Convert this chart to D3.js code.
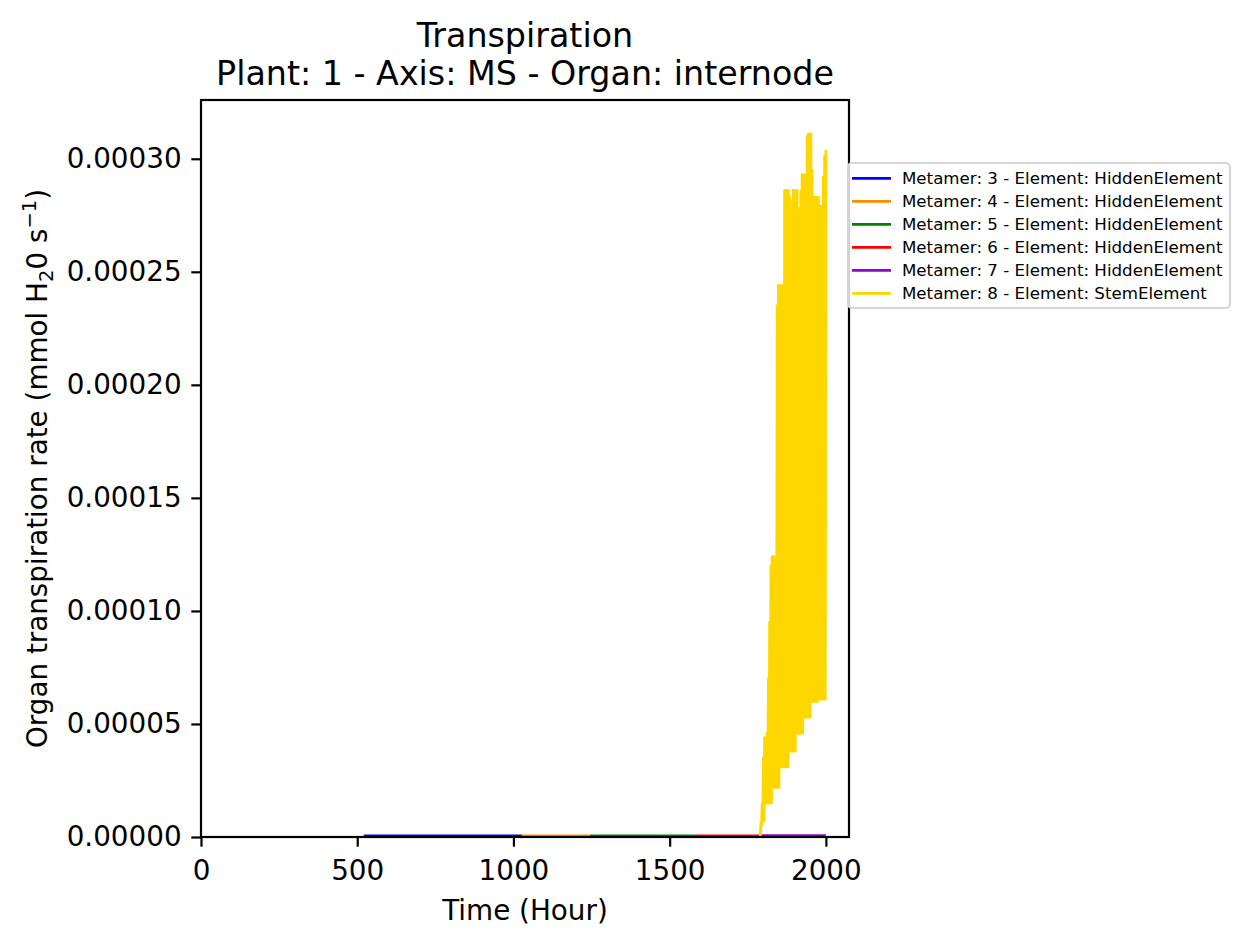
<!DOCTYPE html>
<html>
<head>
<meta charset="utf-8">
<script src="https://cdn.jsdelivr.net/npm/d3@7"></script>
<style>
  body { margin: 0; background: #fff; }
  text { font-family: "DejaVu Sans", sans-serif; }
</style>
</head>
<body>
<div class="canva"></div>
<script>
// series (hours, transpiration in 1e-5 mmol H2O s-1)
const seriesNames = [
  'Metamer: 3 - Element: HiddenElement',
  'Metamer: 4 - Element: HiddenElement',
  'Metamer: 5 - Element: HiddenElement',
  'Metamer: 6 - Element: HiddenElement',
  'Metamer: 7 - Element: HiddenElement',
  'Metamer: 8 - Element: StemElement'
];
const seriesColors = ['#0000ff', '#ff8c00', '#008000', '#ff0000', '#9400d3', '#ffd700'];

// hidden elements transpire next to nothing
const met3Hours = [521, 1027];
const met3Values = [0.05, 0.05];
const met4Hours = [1027, 1245];
const met4Values = [0.05, 0.05];
const met5Hours = [1245, 1584];
const met5Values = [0.05, 0.05];
const met6Hours = [1584, 1791];
const met6Values = [0.05, 0.05];
const met7Hours = [1791, 2000];
const met7Values = [0.06, 0.06];

// metamer 8, every 2 hours from 1790 to 2000
const met8Hours = d3.range(1790, 2001, 2);
const met8Values = [
  0.0, 0.6, 0.5, 1.5, 0.7, 3.5, 0.7, 4.4, 1.5, 4.4,
  1.5, 4.6, 1.5, 7.0, 1.5, 9.5, 1.5, 12.0, 1.5, 12.4,
  2.2, 12.4, 2.2, 12.2, 2.2, 12.4, 2.2, 23.5, 2.2, 24.4,
  2.2, 24.3, 3.1, 24.4, 3.1, 24.2, 3.1, 24.4, 3.1, 28.6,
  3.1, 28.6, 3.1, 28.5, 3.1, 28.6, 3.8, 28.3, 3.8, 28.1,
  3.8, 27.5, 3.8, 28.6, 3.8, 28.6, 3.8, 28.5, 4.6, 28.6,
  4.6, 27.8, 4.6, 27.3, 4.6, 28.6, 4.6, 29.3, 4.6, 29.3,
  5.3, 29.2, 5.3, 29.3, 5.3, 31.0, 5.3, 31.1, 5.3, 31.0,
  5.3, 31.1, 6.0, 29.5, 6.0, 28.0, 6.0, 28.3, 6.0, 28.3,
  6.0, 28.2, 6.0, 28.3, 6.1, 27.9, 6.1, 27.9, 6.1, 27.8,
  6.1, 29.2, 6.1, 30.1, 6.1, 30.4
];
const unit = 1e-5;

const xTicks = [0, 500, 1000, 1500, 2000];
const yTicks = [0, 0.00005, 0.0001, 0.00015, 0.0002, 0.00025, 0.0003];

const width = 1249, height = 945;
const plotLeft = 201, plotRight = 849, plotTop = 100, plotBottom = 837;

const svg = d3.select('.canva').append('svg')
  .attr('width', width)
  .attr('height', height);

const x = d3.scaleLinear().domain([0, 2074]).range([plotLeft, plotRight]);
const y = d3.scaleLinear().domain([0, 3.26e-4]).range([plotBottom, plotTop]);

svg.append('clipPath').attr('id', 'plot')
  .append('rect')
  .attr('x', plotLeft).attr('y', plotTop)
  .attr('width', plotRight - plotLeft).attr('height', plotBottom - plotTop);

const series = [
  [met3Hours, met3Values],
  [met4Hours, met4Values],
  [met5Hours, met5Values],
  [met6Hours, met6Values],
  [met7Hours, met7Values],
  [met8Hours, met8Values]
];

const line = d3.line().x(d => x(d[0])).y(d => y(d[1]));

const lines = svg.append('g').attr('clip-path', 'url(#plot)');
series.forEach((s, i) => {
  const pts = s[0].map((h, j) => [h, s[1][j] * unit]);
  lines.append('path')
    .attr('d', line(pts))
    .attr('fill', 'none')
    .attr('stroke', seriesColors[i])
    .attr('stroke-width', 2.8)
    .attr('stroke-linejoin', 'round')
    .attr('stroke-linecap', 'butt');
});

// axes
const xAxis = svg.append('g')
  .attr('transform', `translate(0,${plotBottom})`)
  .call(d3.axisBottom(x).tickValues(xTicks).tickFormat(d3.format('d'))
    .tickSize(9.7).tickPadding(14));
const yAxis = svg.append('g')
  .attr('transform', `translate(${plotLeft},0)`)
  .call(d3.axisLeft(y).tickValues(yTicks).tickFormat(d3.format('.5f'))
    .tickSize(9.7).tickPadding(9.7));

[xAxis, yAxis].forEach(a => {
  a.select('.domain').remove();
  a.selectAll('line').attr('stroke', '#000').attr('stroke-width', 2.2);
  a.selectAll('text')
    .attr('fill', '#000')
    .style('font-family', '"DejaVu Sans", sans-serif')
    .style('font-size', '27.8px');
});

svg.append('rect')
  .attr('x', plotLeft).attr('y', plotTop)
  .attr('width', plotRight - plotLeft).attr('height', plotBottom - plotTop)
  .attr('fill', 'none')
  .attr('stroke', '#000')
  .attr('stroke-width', 2.2);

// titles and labels
const cx = (plotLeft + plotRight) / 2;
svg.append('text')
  .attr('x', cx).attr('y', 47)
  .attr('text-anchor', 'middle')
  .style('font-size', '33.3px')
  .text('Transpiration');
svg.append('text')
  .attr('x', cx).attr('y', 85)
  .attr('text-anchor', 'middle')
  .style('font-size', '33.3px')
  .text('Plant: 1 - Axis: MS - Organ: internode');

svg.append('text')
  .attr('x', cx).attr('y', 920)
  .attr('text-anchor', 'middle')
  .style('font-size', '27.8px')
  .text('Time (Hour)');

const yLabel = svg.append('text')
  .attr('transform', `translate(47,${(plotTop + plotBottom) / 2}) rotate(-90)`)
  .attr('text-anchor', 'middle')
  .style('font-size', '27.8px');
yLabel.append('tspan').text('Organ transpiration rate (mmol H');
yLabel.append('tspan').attr('dy', 6).style('font-size', '19.5px').text('2');
yLabel.append('tspan').attr('dy', -6).text('0 s');
yLabel.append('tspan').attr('dy', -11).style('font-size', '19.5px').text('\u22121');
yLabel.append('tspan').attr('dy', 11).text(')');

// legend
const legend = svg.append('g');
legend.append('rect')
  .attr('x', 848).attr('y', 163)
  .attr('width', 382).attr('height', 145)
  .attr('rx', 4)
  .attr('fill', '#fff')
  .attr('fill-opacity', 0.8)
  .attr('stroke', '#d6d6d6')
  .attr('stroke-width', 2.2);

const rows = legend.selectAll('g.row')
  .data(seriesNames)
  .enter()
  .append('g')
  .attr('transform', (d, i) => `translate(0,${178.3 + i * 23})`);
rows.append('line')
  .attr('x1', 852).attr('x2', 891)
  .attr('stroke', (d, i) => seriesColors[i])
  .attr('stroke-width', 2.8);
rows.append('text')
  .attr('x', 902)
  .attr('y', 6)
  .style('font-size', '16.67px')
  .text(d => d);
</script>
</body>
</html>
